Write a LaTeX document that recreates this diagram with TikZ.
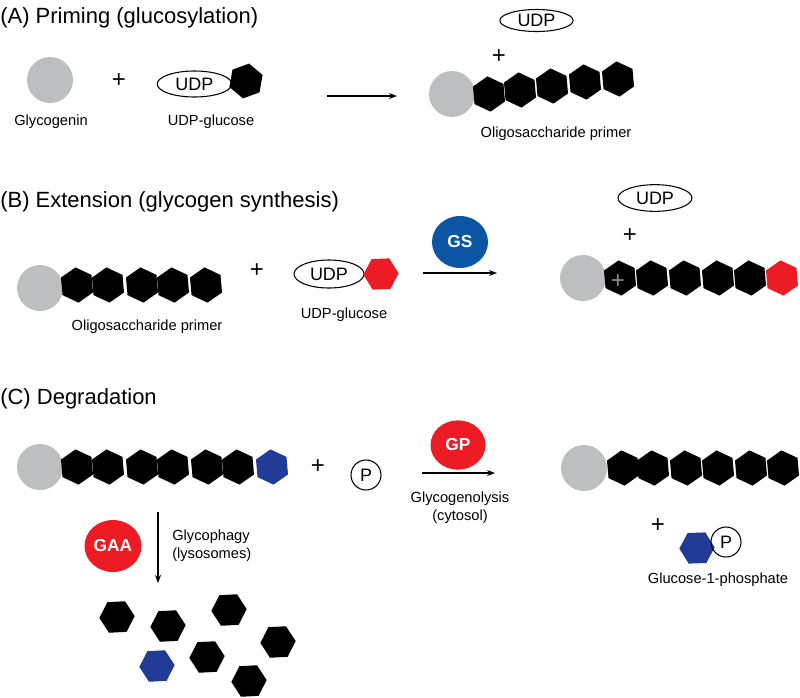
\documentclass[tikz,border=0pt]{standalone}
\usepackage{fontspec}
\setmainfont{Liberation Sans}
\usetikzlibrary{shapes.geometric,arrows.meta}
\definecolor{glygray}{HTML}{BCBEC0}
\definecolor{enzred}{HTML}{ED1C24}
\definecolor{gsblue}{HTML}{0B55A5}
\definecolor{hexblue}{HTML}{213C96}
\begin{document}
\begin{tikzpicture}[x=0.75pt,y=-0.75pt,
  glyco/.style={circle, fill=glygray, minimum size=34.5pt, inner sep=0},
  hexa/.style={regular polygon, regular polygon sides=6, minimum size=26.5pt, inner sep=0, fill=black, rotate=35},
  hexred/.style={hexa, fill=enzred},
  hexblu/.style={hexa, fill=hexblue},
  udp/.style={ellipse, draw, line width=0.8pt, inner sep=0, font=\fontsize{13.5}{15}\selectfont},
  enz/.style={ellipse, inner sep=0, text=white, font=\bfseries\fontsize{13}{15}\selectfont},
  pcirc/.style={circle, draw, line width=0.8pt, minimum size=22.5pt, inner sep=0, font=\fontsize{13.5}{15}\selectfont},
  rxn/.style={-{Stealth[length=6pt,width=4.5pt]}, line width=0.9pt},
  lab/.style={font=\fontsize{11}{13}\selectfont, inner sep=0, anchor=base},
  labw/.style={lab, anchor=base west},
  ttl/.style={font=\fontsize{16.5}{19}\selectfont, inner sep=0, anchor=base west},
  pl/.style={font=\fontsize{18}{20}\selectfont, inner sep=0}
]
\useasboundingbox (0,0) rectangle (800,697);

% ---------------- (A) ----------------
\node[ttl] (tA) at (0,23) {(A) Priming (glucosylation)};
\node[glyco] (gA1) at (50,80) {};
\node[pl] (pA1) at (119,81) {+};
\node[udp, minimum width=56pt, minimum height=19.5pt] (uA1) at (194.5,84) {UDP};
\node[hexa, rotate=45] (hA1) at (246,81) {};
\node[lab] (lA1) at (51,125) {Glycogenin};
\node[lab] (lA2) at (211,125) {UDP-glucose};
\coordinate (aA1) at (327,96);
\coordinate (aA2) at (397,96);
\draw[rxn] (aA1) -- (aA2);

\node[udp, minimum width=55pt, minimum height=16.5pt] (uA2) at (536.5,20.5) {UDP};
\node[pl] (pA2) at (499,57) {+};
\node[glyco] (gA2) at (452,94) {};
\node[hexa] (hA21) at (489,94) {};
\node[hexa] (hA22) at (520,90) {};
\node[hexa] (hA23) at (552,86) {};
\node[hexa] (hA24) at (585,82) {};
\node[hexa] (hA25) at (618,79) {};
\node[lab] (lA3) at (556,137) {Oligosaccharide primer};

% ---------------- (B) ----------------
\node[ttl] (tB) at (0,207) {(B) Extension (glycogen synthesis)};
\node[glyco] (gB1) at (40,288) {};
\node[hexa] (hB11) at (77,285) {};
\node[hexa] (hB12) at (108,285) {};
\node[hexa] (hB13) at (142,285) {};
\node[hexa] (hB14) at (173,285) {};
\node[hexa] (hB15) at (206,285) {};
\node[lab] (lB1) at (147,330) {Oligosaccharide primer};
\node[pl] (pB1) at (257,271) {+};
\node[udp, minimum width=52.5pt, minimum height=21pt] (uB1) at (329,274) {UDP};
\node[hexred, rotate=27] (hB2) at (381,274) {};
\node[lab] (lB2) at (344,318) {UDP-glucose};
\node[enz, fill=gsblue, minimum width=42pt, minimum height=39pt] (GS) at (460,242) {GS};
\coordinate (aB1) at (423,273);
\coordinate (aB2) at (497,273);
\draw[rxn] (aB1) -- (aB2);

\node[udp, minimum width=55.5pt, minimum height=20pt] (uB2) at (655,198) {UDP};
\node[pl] (pB2) at (630,236) {+};
\node[glyco] (gB2) at (583,278) {};
\node[hexa] (hB31) at (620,278) {};
\node[hexa] (hB32) at (652,278) {};
\node[hexa] (hB33) at (685,278) {};
\node[hexa] (hB34) at (718,278) {};
\node[hexa] (hB35) at (750,278) {};
\node[hexred] (hB36) at (782,278) {};
\node[pl, text=black!45] (pB3) at (618,282) {+};

% ---------------- (C) ----------------
\node[ttl] (tC) at (0,404) {(C) Degradation};
\node[glyco] (gC1) at (40,467) {};
\node[hexa] (hC11) at (77,467) {};
\node[hexa] (hC12) at (108,467) {};
\node[hexa] (hC13) at (142,467) {};
\node[hexa] (hC14) at (173,467) {};
\node[hexa] (hC15) at (207,467) {};
\node[hexa] (hC16) at (238,467) {};
\node[hexblu] (hC17) at (272,467) {};
\node[pl] (pC1) at (318,467) {+};
\node[pcirc] (PC1) at (366,475) {P};

\node[enz, fill=enzred, minimum width=41.25pt, minimum height=37pt] (GP) at (458,445) {GP};
\coordinate (aC1) at (422,473);
\coordinate (aC2) at (495,473);
\draw[rxn] (aC1) -- (aC2);
\node[lab] (lC1) at (460,502) {Glycogenolysis};
\node[lab] (lC2) at (460,520) {(cytosol)};

\node[glyco] (gC2) at (584,468) {};
\node[hexa] (hC21) at (623,468) {};
\node[hexa] (hC22) at (653,468) {};
\node[hexa] (hC23) at (686,468) {};
\node[hexa] (hC24) at (718,468) {};
\node[hexa] (hC25) at (751,468) {};
\node[hexa] (hC26) at (783,468) {};
\node[pl] (pC2) at (658,526) {+};
\node[hexblu, rotate=27] (hC3) at (697,548) {};
\node[pcirc] (PC2) at (726,542) {P};
\node[lab] (lC3) at (718,583) {Glucose-1-phosphate};

\coordinate (aC3) at (158,512);
\coordinate (aC4) at (158,583);
\draw[rxn] (aC3) -- (aC4);
\node[enz, fill=enzred, minimum width=42.75pt, minimum height=39pt] (GAA) at (113,546) {GAA};
\node[labw] (lC4) at (172,540) {Glycophagy};
\node[labw] (lC5) at (172,558) {(lysosomes)};

\node[hexa, rotate=28] (s1) at (117,617) {};
\node[hexa, rotate=28] (s2) at (168,626) {};
\node[hexa, rotate=28] (s3) at (229,610) {};
\node[hexa, rotate=28] (s4) at (278,642) {};
\node[hexblu, rotate=28] (s5) at (157,666) {};
\node[hexa, rotate=28] (s6) at (207,657) {};
\node[hexa, rotate=28] (s7) at (249,681) {};
\end{tikzpicture}
\end{document}
